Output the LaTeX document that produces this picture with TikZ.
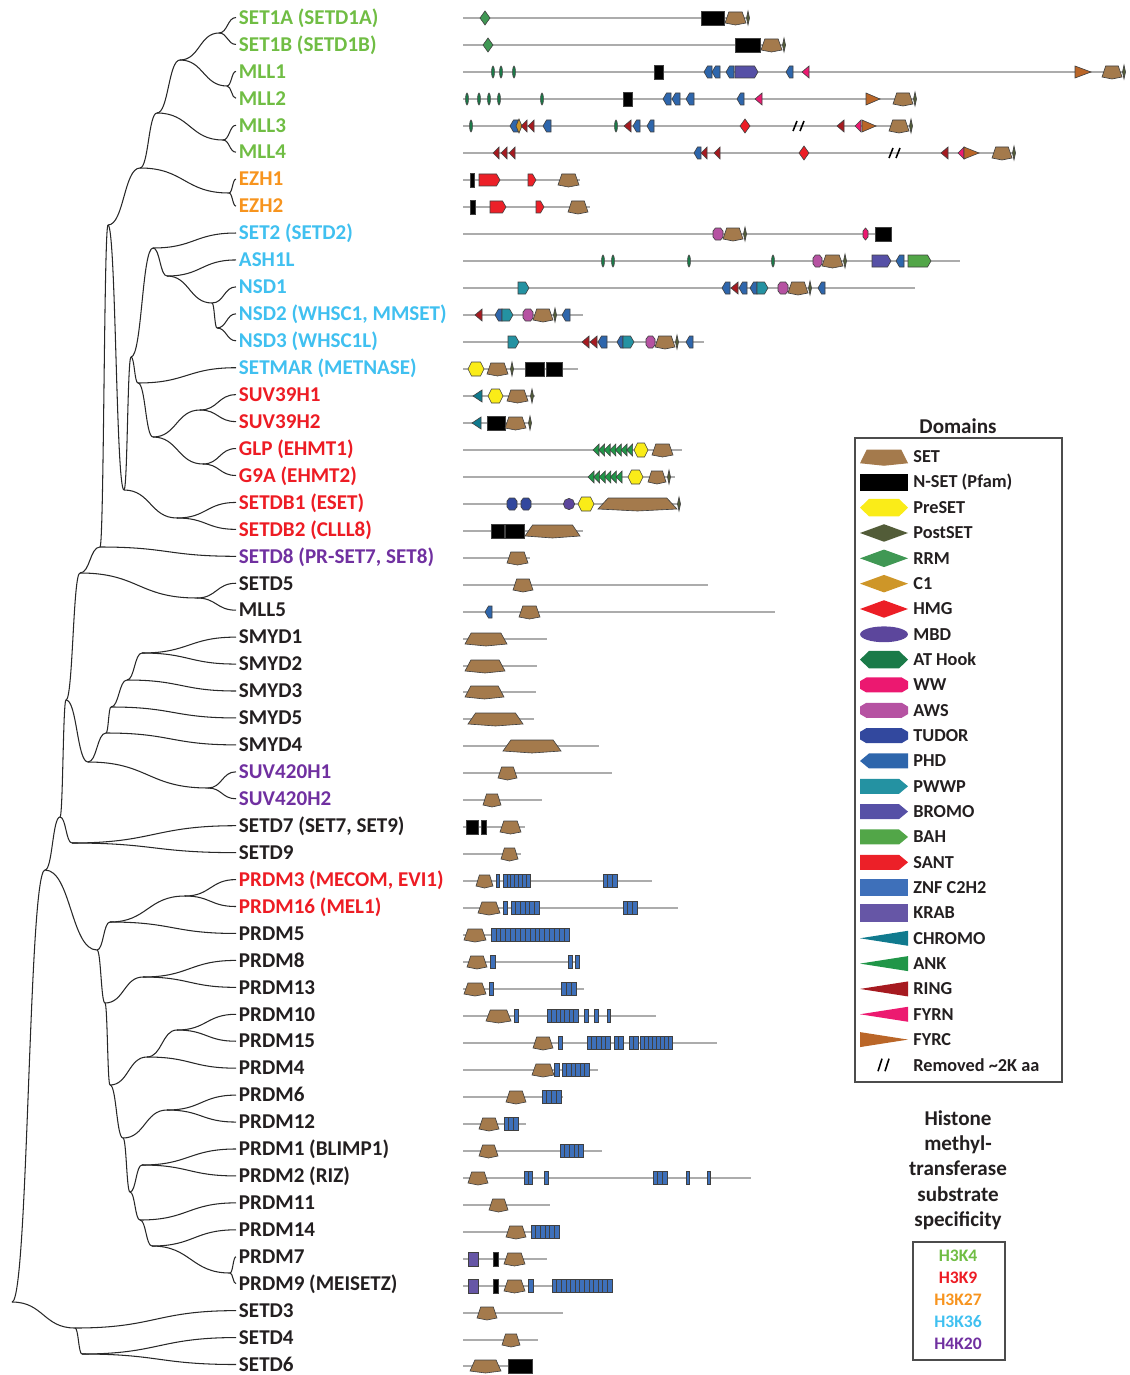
\documentclass[tikz,border=0pt]{standalone}
\usepackage{fontspec}
\setmainfont{Carlito}
\usepackage{tikz}
\usetikzlibrary{calc}
\usepackage{xcolor}
\definecolor{setBrown}{RGB}{164,122,76}
\definecolor{preYellow}{RGB}{250,236,24}
\definecolor{postOlive}{RGB}{82,92,56}
\definecolor{rrmGreen}{RGB}{64,152,84}
\definecolor{cOneGold}{RGB}{206,150,40}
\definecolor{hmgRed}{RGB}{236,30,38}
\definecolor{mbdPurple}{RGB}{92,70,156}
\definecolor{atGreen}{RGB}{26,122,72}
\definecolor{wwPink}{RGB}{236,24,112}
\definecolor{awsOrchid}{RGB}{182,82,162}
\definecolor{tudorBlue}{RGB}{50,72,158}
\definecolor{phdBlue}{RGB}{46,102,172}
\definecolor{pwwpTeal}{RGB}{36,146,162}
\definecolor{bromoSlate}{RGB}{86,80,166}
\definecolor{bahGreen}{RGB}{82,166,72}
\definecolor{santRed}{RGB}{236,32,40}
\definecolor{znfBlue}{RGB}{62,112,186}
\definecolor{krabPurple}{RGB}{102,86,166}
\definecolor{chromoTeal}{RGB}{16,122,142}
\definecolor{ankGreen}{RGB}{32,150,72}
\definecolor{ringRed}{RGB}{166,26,32}
\definecolor{fyrnPink}{RGB}{236,26,112}
\definecolor{fyrcOrange}{RGB}{186,102,40}
\definecolor{protGray}{RGB}{172,172,172}
\definecolor{treeGray}{RGB}{40,40,40}
\definecolor{geneBlack}{RGB}{35,31,32}
\definecolor{kFour}{RGB}{112,189,68}
\definecolor{kNine}{RGB}{237,28,36}
\definecolor{kTwentySeven}{RGB}{247,148,30}
\definecolor{kThirtySix}{RGB}{64,192,240}
\definecolor{kTwenty}{RGB}{112,48,160}

% domain glyphs, drawn on the current row \ry
\newcommand\dtip{3.5}
\newcommand\ry{0}
\newcommand\prot[3]{\def\ry{#1}\draw[protline] (463,#1) -- (#2,#1); #3}
\newcommand\dSet[2]{\pgfmathsetmacro\setin{0.11*(#2-#1)+1.5}\filldraw[dom, fill=setBrown] (#1,\ry+5) -- (#1+\setin,\ry-6) -- (#2-\setin,\ry-6) -- (#2,\ry+5) -- ({(#1+#2)/2},\ry+7) -- cycle;}
\newcommand\dPost[1]{\filldraw[dom, fill=postOlive] (#1-1.5,\ry) -- (#1,\ry-7) -- (#1+1.5,\ry) -- (#1,\ry+7) -- cycle;}
\newcommand\dAt[1]{\filldraw[dom, fill=atGreen] (#1,\ry) ellipse [x radius=0.8pt, y radius=3.4pt];}
\newcommand\dMbd[1]{\filldraw[dom, fill=mbdPurple] (#1,\ry) circle [radius=3.2pt];}
\newcommand\dBox[3]{\filldraw[dom, fill=#1] (#2,\ry-7) rectangle (#3,\ry+7);}
\newcommand\dDiam[3]{\filldraw[dom, fill=#1] (#2,\ry) -- ({(#2+#3)/2},\ry-7) -- (#3,\ry) -- ({(#2+#3)/2},\ry+7) -- cycle;}
\newcommand\dHex[3]{\filldraw[dom, fill=#1] (#2,\ry) -- (#2+\dtip,\ry-7) -- (#3-\dtip,\ry-7) -- (#3,\ry) -- (#3-\dtip,\ry+7) -- (#2+\dtip,\ry+7) -- cycle;}
\newcommand\dOct[3]{\filldraw[dom, fill=#1] (#2,\ry-3) -- (#2+0.7*\dtip,\ry-6) -- (#3-0.7*\dtip,\ry-6) -- (#3,\ry-3) -- (#3,\ry+3) -- (#3-0.7*\dtip,\ry+6) -- (#2+0.7*\dtip,\ry+6) -- (#2,\ry+3) -- cycle;}
\newcommand\dPhd[2]{\filldraw[dom, fill=phdBlue] (#1,\ry) -- (#1+\dtip,\ry-6) -- (#2,\ry-6) -- (#2,\ry+6) -- (#1+\dtip,\ry+6) -- cycle;}
\newcommand\dArr[3]{\filldraw[dom, fill=#1] (#2,\ry-6) -- (#3-\dtip,\ry-6) -- (#3,\ry) -- (#3-\dtip,\ry+6) -- (#2,\ry+6) -- cycle;}
\newcommand\dTl[3]{\filldraw[dom, fill=#1] (#2,\ry) -- (#3,\ry-6) -- (#3,\ry+6) -- cycle;}
\newcommand\dTr[3]{\filldraw[dom, fill=#1] (#2,\ry-6) -- (#3,\ry) -- (#2,\ry+6) -- cycle;}
\newcommand\dZnf[3]{\foreach \k in {1,...,#3}{\filldraw[dom, fill=znfBlue] ({#1+(\k-1)*(#2-#1)/#3},\ry-6.5) rectangle ({#1+\k*(#2-#1)/#3},\ry+6.5);}}
\newcommand\dAnk[2]{\foreach \k in {1,...,#2}{\pgfmathsetmacro\ax{#1+(\k-1)*5.6}\pgfmathsetmacro\bx{\ax+6}\dTl{ankGreen}{\ax}{\bx}}}
\newcommand\dRem[1]{\draw[line width=0.9pt] (#1-6,\ry+5) -- (#1-2,\ry-5) (#1+1,\ry+5) -- (#1+5,\ry-5);}
\newcommand\legrow[3]{\begin{scope}[shift={(0,{457+25.33*#1})}, yscale=1.25, dom/.append style={draw=none}]\def\ry{0}\def\dtip{9}#2\end{scope}\node[legtext] (leg#1) at (913,{457+25.33*#1}) {#3};}

\begin{document}
\begin{tikzpicture}[
    x=0.02cm, y=-0.02cm,
    gene/.style={anchor=west, inner xsep=1.5pt, inner ysep=0pt, text height=7.7pt, text depth=0pt, font=\fontsize{12}{14}\selectfont\bfseries},
    branch/.style={draw=treeGray, line width=0.6pt, to path={let \p1=(\tikztostart), \p2=(\tikztotarget) in .. controls ({(\x1+\x2)/2},\y1) and ({(\x1+\x2)/2},\y2) .. (\tikztotarget)}},
    protline/.style={draw=protGray, line width=1.3pt},
    dom/.style={draw=black!75, line width=0.35pt},
    legtext/.style={anchor=west, inner sep=0pt, text=geneBlack, font=\fontsize{10.4}{12}\selectfont\bfseries},
    heading/.style={text=geneBlack, align=center, font=\fontsize{12}{14.4}\selectfont\bfseries},
    subst/.style={font=\fontsize{10}{12}\selectfont\bfseries}
]
\useasboundingbox (0,0) rectangle (1129,1375);

% gene names
\foreach \c/\t [count=\i from 0] in {kFour/{SET1A (SETD1A)}, kFour/{SET1B (SETD1B)}, kFour/MLL1, kFour/MLL2, kFour/MLL3, kFour/MLL4, kTwentySeven/EZH1, kTwentySeven/EZH2, kThirtySix/{SET2 (SETD2)}, kThirtySix/ASH1L, kThirtySix/NSD1, kThirtySix/{NSD2 (WHSC1, MMSET)}, kThirtySix/{NSD3 (WHSC1L)}, kThirtySix/{SETMAR (METNASE)}, kNine/SUV39H1, kNine/SUV39H2, kNine/{GLP (EHMT1)}, kNine/{G9A (EHMT2)}, kNine/{SETDB1 (ESET)}, kNine/{SETDB2 (CLLL8)}, kTwenty/{SETD8 (PR-SET7, SET8)}, geneBlack/SETD5, geneBlack/MLL5, geneBlack/SMYD1, geneBlack/SMYD2, geneBlack/SMYD3, geneBlack/SMYD5, geneBlack/SMYD4, kTwenty/SUV420H1, kTwenty/SUV420H2, geneBlack/{SETD7 (SET7, SET9)}, geneBlack/SETD9, kNine/{PRDM3 (MECOM, EVI1)}, kNine/{PRDM16 (MEL1)}, geneBlack/PRDM5, geneBlack/PRDM8, geneBlack/PRDM13, geneBlack/PRDM10, geneBlack/PRDM15, geneBlack/PRDM4, geneBlack/PRDM6, geneBlack/PRDM12, geneBlack/{PRDM1 (BLIMP1)}, geneBlack/{PRDM2 (RIZ)}, geneBlack/PRDM11, geneBlack/PRDM14, geneBlack/PRDM7, geneBlack/{PRDM9 (MEISETZ)}, geneBlack/SETD3, geneBlack/SETD4, geneBlack/SETD6}
    \node[gene, text=\c] (L\i) at (236,{17.5+26.94*\i}) {\t};

% tree
\coordinate (a1) at (219,33);  \coordinate (a2) at (227,86);  \coordinate (a3) at (180,60);
\coordinate (a4) at (223,140); \coordinate (a5) at (157,113); \coordinate (a6) at (229,193);
\coordinate (a7) at (140,168);
\coordinate (b1) at (217,328); \coordinate (b2) at (212,303); \coordinate (b3) at (167,276);
\coordinate (b4) at (153,248);
\coordinate (c1) at (200,410); \coordinate (c2) at (203,464); \coordinate (c3) at (153,437);
\coordinate (c4) at (138,383); \coordinate (c5) at (131,357);
\coordinate (d1) at (177,518); \coordinate (d2) at (124,490);
\coordinate (e1) at (108,225); \coordinate (e2) at (100,547);
\coordinate (s5) at (197,598); \coordinate (h1) at (80,573);
\coordinate (m1) at (142,653); \coordinate (m2) at (127,680); \coordinate (m3) at (111,707);
\coordinate (m4) at (106,733); \coordinate (sv) at (208,788); \coordinate (m5) at (88,762);
\coordinate (h2) at (66,700);  \coordinate (t1) at (72,843);  \coordinate (g2) at (60,817);
\coordinate (pr1) at (185,896); \coordinate (pr2) at (110,922); \coordinate (pr3) at (143,977);
\coordinate (pr5) at (177,1030); \coordinate (pr6) at (147,1057); \coordinate (pr7) at (110,1085);
\coordinate (pr8) at (167,1110); \coordinate (pr9) at (123,1138); \coordinate (pr10) at (142,1165);
\coordinate (pr11) at (130,1192); \coordinate (pr12) at (140,1220); \coordinate (pr13) at (152,1246);
\coordinate (pr14) at (230,1273); \coordinate (pr4) at (105,1003); \coordinate (prr) at (97,950);
\coordinate (g1) at (45,870); \coordinate (s3) at (75,1328); \coordinate (s46) at (82,1354);
\coordinate (rt) at (12,1302);

\foreach \p/\q in {a1/L0.west, a1/L1.west, a2/L2.west, a2/L3.west, a3/a1, a3/a2, a4/L4.west, a4/L5.west, a5/a3, a5/a4, a6/L6.west, a6/L7.west, a7/a5, a7/a6,
    b1/L11.west, b1/L12.west, b2/L10.west, b2/b1, b3/L9.west, b3/b2, b4/L8.west, b4/b3,
    c1/L14.west, c1/L15.west, c2/L16.west, c2/L17.west, c3/c1, c3/c2, c4/L13.west, c4/c3, c5/b4, c5/c4,
    d1/L18.west, d1/L19.west, d2/c5, d2/d1, e1/a7, e1/d2, e2/e1, e2/L20.west,
    s5/L21.west, s5/L22.west, h1/e2, h1/s5,
    m1/L23.west, m1/L24.west, m2/m1, m2/L25.west, m3/m2, m3/L26.west, m4/m3, m4/L27.west,
    sv/L28.west, sv/L29.west, m5/m4, m5/sv, h2/h1, h2/m5, t1/L30.west, t1/L31.west, g2/h2, g2/t1,
    pr1/L32.west, pr1/L33.west, pr2/pr1, pr2/L34.west, pr3/L35.west, pr3/L36.west,
    pr5/L37.west, pr5/L38.west, pr6/pr5, pr6/L39.west, pr8/L40.west, pr8/L41.west,
    pr10/L42.west, pr10/L43.west, pr14/L46.west, pr14/L47.west, pr13/L45.west, pr13/pr14,
    pr12/L44.west, pr12/pr13, pr11/pr10, pr11/pr12, pr9/pr8, pr9/pr11, pr7/pr6, pr7/pr9,
    pr4/pr3, pr4/pr7, prr/pr2, prr/pr4,
    g1/g2, g1/prr, s46/L49.west, s46/L50.west, s3/L48.west, s3/s46, rt/g1, rt/s3}
    \draw[branch] (\p) to (\q);

% domain architectures
\prot{18}{747}{\dDiam{rrmGreen}{480}{490} \dBox{black}{701}{724} \dSet{725}{746} \dPost{748}}
\prot{45}{786}{\dDiam{rrmGreen}{483}{493} \dBox{black}{735}{760} \dSet{761}{782} \dPost{784}}
\prot{72}{1125}{\dAt{493} \dAt{501} \dAt{514} \dBox{black}{654}{663} \dPhd{704}{712} \dPhd{712}{720} \dPhd{726}{734} \dArr{bromoSlate}{735}{758} \dPhd{786}{793} \dTl{fyrnPink}{802}{809} \dTr{fyrcOrange}{1075}{1091} \dSet{1102}{1122} \dPost{1124}}
\prot{99}{916}{\dAt{467} \dAt{479} \dAt{489} \dAt{499} \dAt{542} \dBox{black}{623}{632} \dPhd{663}{671} \dPhd{672}{680} \dPhd{686}{694} \dPhd{737}{744} \dTl{fyrnPink}{755}{762} \dTr{fyrcOrange}{866}{880} \dSet{893}{913} \dPost{915}}
\prot{126}{911}{\dAt{471} \dPhd{510}{518} \dDiam{cOneGold}{516}{522} \dTl{ringRed}{521}{527} \dTl{ringRed}{528}{534} \dPhd{543}{551} \dAt{616} \dTl{ringRed}{624}{631} \dPhd{633}{640} \dPhd{647}{654} \dDiam{hmgRed}{740}{750} \dRem{799} \dTl{ringRed}{837}{844} \dTl{fyrnPink}{855}{861} \dTr{fyrcOrange}{862}{876} \dSet{889}{909} \dPost{911}}
\prot{153}{1014}{\dTl{ringRed}{493}{499} \dTl{ringRed}{501}{507} \dTl{ringRed}{509}{515} \dPhd{694}{701} \dTl{ringRed}{701}{707} \dTl{ringRed}{714}{720} \dDiam{hmgRed}{799}{809} \dRem{895} \dTl{ringRed}{941}{948} \dTl{fyrnPink}{958}{964} \dTr{fyrcOrange}{964}{979} \dSet{992}{1012} \dPost{1014}}
\prot{180}{580}{\dBox{black}{470}{474} \dArr{santRed}{479}{500} \dArr{santRed}{528}{536} \dSet{558}{579}}
\prot{207}{590}{\dBox{black}{470}{475} \dArr{santRed}{490}{506} \dArr{santRed}{536}{544} \dSet{568}{588}}
\prot{234}{891}{\dOct{awsOrchid}{713}{723} \dSet{723}{743} \dPost{745} \dOct{wwPink}{863}{868} \dBox{black}{875}{891}}
\prot{261}{960}{\dAt{603} \dAt{613} \dAt{689} \dAt{773} \dOct{awsOrchid}{813}{822} \dSet{822}{843} \dPost{845} \dArr{bromoSlate}{872}{891} \dPhd{896}{904} \dArr{bahGreen}{908}{931}}
\prot{288}{915}{\dArr{pwwpTeal}{518}{529} \dPhd{722}{730} \dTl{ringRed}{731}{738} \dPhd{739}{747} \dPhd{750}{757} \dArr{pwwpTeal}{757}{768} \dOct{awsOrchid}{778}{788} \dSet{788}{808} \dPost{810} \dPhd{818}{825}}
\prot{315}{583}{\dTl{ringRed}{475}{482} \dPhd{495}{502} \dArr{pwwpTeal}{502}{513} \dOct{awsOrchid}{523}{533} \dSet{533}{553} \dPost{555} \dPhd{562}{570}}
\prot{342}{704}{\dArr{pwwpTeal}{508}{519} \dTl{ringRed}{582}{589} \dTl{ringRed}{590}{597} \dPhd{598}{607} \dPhd{617}{623} \dArr{pwwpTeal}{623}{634} \dOct{awsOrchid}{646}{655} \dSet{655}{675} \dPost{677} \dPhd{686}{693}}
\prot{369}{578}{\dHex{preYellow}{468}{484} \dSet{487}{508} \dPost{512} \dBox{black}{525}{544} \dBox{black}{546}{562}}
\prot{396}{535}{\dTl{chromoTeal}{473}{482} \dHex{preYellow}{488}{503} \dSet{507}{528} \dPost{532}}
\prot{423}{531}{\dTl{chromoTeal}{472}{481} \dBox{black}{487}{505} \dSet{505}{526} \dPost{530}}
\prot{450}{682}{\dAnk{593}{7} \dHex{preYellow}{634}{648} \dSet{652}{673}}
\prot{477}{675}{\dAnk{588}{6} \dHex{preYellow}{628}{643} \dSet{648}{666} \dPost{669}}
\prot{504}{680}{\dOct{tudorBlue}{507}{517} \dOct{tudorBlue}{521}{531} \dMbd{569} \dHex{preYellow}{578}{594} \dSet{598}{677} \dPost{679}}
\prot{531}{583}{\dBox{black}{491}{504} \dBox{black}{505}{524} \dSet{525}{580}}
\prot{558}{530}{\dSet{507}{528}}
\prot{585}{708}{\dSet{513}{533}}
\prot{612}{775}{\dPhd{485}{492} \dSet{519}{540}}
\prot{639}{547}{\dSet{465}{507}}
\prot{666}{537}{\dSet{465}{505}}
\prot{692}{536}{\dSet{465}{504}}
\prot{719}{534}{\dSet{468}{523}}
\prot{746}{599}{\dSet{503}{561}}
\prot{773}{612}{\dSet{498}{517}}
\prot{800}{542}{\dSet{483}{501}}
\prot{827}{525}{\dBox{black}{466}{478} \dBox{black}{481}{486} \dSet{500}{521}}
\prot{854}{521}{\dSet{501}{518}}
\prot{881}{652}{\dSet{476}{493} \dZnf{496}{499}{1} \dZnf{503}{530}{7} \dZnf{603}{617}{3}}
\prot{908}{678}{\dSet{478}{500} \dZnf{503}{507}{1} \dZnf{511}{539}{6} \dZnf{623}{637}{3}}
\prot{935}{569}{\dSet{464}{486} \dZnf{491}{569}{16}}
\prot{962}{579}{\dSet{467}{487} \dZnf{490}{495}{1} \dZnf{568}{572}{1} \dZnf{575}{579}{1}}
\prot{989}{584}{\dSet{464}{486} \dZnf{489}{493}{1} \dZnf{561}{576}{3}}
\prot{1016}{656}{\dSet{486}{511} \dZnf{514}{518}{1} \dZnf{547}{578}{7} \dZnf{584}{588}{1} \dZnf{594}{598}{1} \dZnf{607}{610}{1}}
\prot{1043}{717}{\dSet{533}{553} \dZnf{558}{562}{1} \dZnf{587}{610}{5} \dZnf{614}{623}{2} \dZnf{629}{638}{2} \dZnf{640}{672}{8}}
\prot{1070}{598}{\dSet{532}{554} \dZnf{554}{559}{1} \dZnf{562}{589}{6}}
\prot{1097}{563}{\dSet{506}{526} \dZnf{542}{561}{4}}
\prot{1124}{526}{\dSet{479}{499} \dZnf{504}{518}{3}}
\prot{1151}{602}{\dSet{479}{498} \dZnf{560}{583}{5}}
\prot{1178}{751}{\dSet{468}{488} \dZnf{524}{532}{2} \dZnf{544}{548}{1} \dZnf{653}{667}{3} \dZnf{686}{689}{1} \dZnf{707}{710}{1}}
\prot{1205}{550}{\dSet{489}{508}}
\prot{1232}{559}{\dSet{506}{526} \dZnf{531}{559}{6}}
\prot{1259}{547}{\dBox{krabPurple}{468}{478} \dBox{black}{493}{498} \dSet{504}{525}}
\prot{1286}{613}{\dBox{krabPurple}{468}{478} \dBox{black}{493}{498} \dSet{504}{525} \dZnf{528}{533}{1} \dZnf{552}{612}{13}}
\prot{1313}{563}{\dSet{477}{497}}
\prot{1340}{538}{\dSet{502}{520}}
\prot{1366}{532}{\dSet{470}{501} \dBox{black}{508}{532}}

% domain legend
\node[heading] (domtitle) at (958,426) {Domains};
\draw[black!70, line width=0.6pt] (855,438) rectangle (1062,1082);
\legrow{0}{\dSet{860}{908}}{SET}
\legrow{1}{\dBox{black}{860}{908}}{N-SET (Pfam)}
\legrow{2}{\dHex{preYellow}{860}{908}}{PreSET}
\legrow{3}{\dDiam{postOlive}{860}{908}}{PostSET}
\legrow{4}{\dDiam{rrmGreen}{860}{908}}{RRM}
\legrow{5}{\dDiam{cOneGold}{860}{908}}{C1}
\legrow{6}{\dDiam{hmgRed}{860}{908}}{HMG}
\legrow{7}{\filldraw[dom, fill=mbdPurple] (884,0) ellipse [x radius=13.6pt, y radius=3.6pt];}{MBD}
\legrow{8}{\dHex{atGreen}{860}{908}}{AT Hook}
\legrow{9}{\dOct{wwPink}{860}{908}}{WW}
\legrow{10}{\dOct{awsOrchid}{860}{908}}{AWS}
\legrow{11}{\dOct{tudorBlue}{860}{908}}{TUDOR}
\legrow{12}{\dPhd{860}{908}}{PHD}
\legrow{13}{\dArr{pwwpTeal}{860}{908}}{PWWP}
\legrow{14}{\dArr{bromoSlate}{860}{908}}{BROMO}
\legrow{15}{\dArr{bahGreen}{860}{908}}{BAH}
\legrow{16}{\dArr{santRed}{860}{908}}{SANT}
\legrow{17}{\dBox{znfBlue}{860}{908}}{ZNF C2H2}
\legrow{18}{\dBox{krabPurple}{860}{908}}{KRAB}
\legrow{19}{\dTl{chromoTeal}{860}{908}}{CHROMO}
\legrow{20}{\dTl{ankGreen}{860}{908}}{ANK}
\legrow{21}{\dTl{ringRed}{860}{908}}{RING}
\legrow{22}{\dTl{fyrnPink}{860}{908}}{FYRN}
\legrow{23}{\dTr{fyrcOrange}{860}{908}}{FYRC}
\legrow{24}{\dRem{884}}{Removed \textasciitilde 2K aa}

% substrate key
\node[heading] (spectitle) at (958,1170) {Histone\\methyl-\\transferase\\substrate\\specificity};
\draw[black!70, line width=0.6pt] (913,1242) rectangle (1005,1360);
\foreach \c/\t [count=\k from 0] in {kFour/H3K4, kNine/H3K9, kTwentySeven/H3K27, kThirtySix/H3K36, kTwenty/H4K20}
    \node[subst, text=\c] (sub\t) at (958,{1256+22*\k}) {\t};
\end{tikzpicture}
\end{document}
